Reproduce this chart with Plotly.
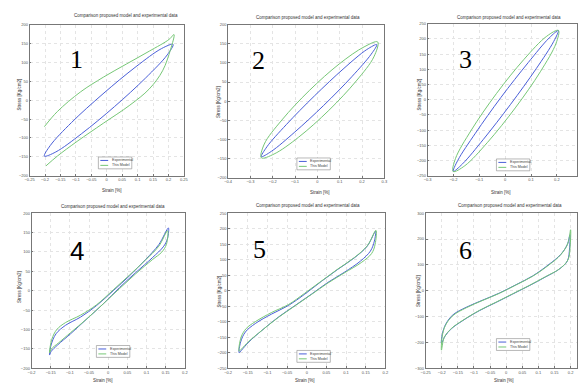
import plotly.graph_objects as go

W, H = 583, 387

# ---------------- data (strain [%], stress) ----------------
p1_exp_x = [-0.202, -0.165, -0.082, 0.025, 0.126, 0.196, 0.215, 0.178, 0.095, -0.012, -0.114, -0.183, -0.202]
p1_exp_y = [-148, -137, -89, -17, 59, 120, 148, 137, 89, 17, -59, -120, -148]
p1_mod_x = [-0.202, -0.160, -0.085, -0.011, 0.064, 0.138, 0.202, 0.218, 0.207, 0.181, 0.138, 0.075, -0.011, -0.096, -0.160, -0.197]
p1_mod_y = [-70, -30, 22, 61, 96, 130, 161, 174, 135, 78, 30, -13, -61, -109, -148, -174]

p2_exp_x = [-0.251, -0.206, -0.104, 0.028, 0.154, 0.241, 0.266, 0.221, 0.119, -0.013, -0.139, -0.226, -0.251]
p2_exp_y = [-145, -131, -82, -11, 64, 123, 148, 135, 86, 14, -61, -119, -145]
p2_mod_x = [-0.251, -0.194, -0.084, 0.051, 0.174, 0.253, 0.270, 0.209, 0.099, -0.036, -0.159, -0.238, -0.251]
p2_mod_y = [-148, -138, -94, -24, 53, 116, 155, 142, 98, 28, -49, -112, -148]

p3_exp_x = [-0.201, -0.165, -0.084, 0.021, 0.120, 0.188, 0.206, 0.170, 0.089, -0.016, -0.115, -0.183, -0.201]
p3_exp_y = [-236, -211, -130, -15, 102, 192, 228, 203, 122, 8, -110, -199, -236]
p3_mod_x = [-0.201, -0.156, -0.068, 0.039, 0.136, 0.197, 0.206, 0.161, 0.073, -0.034, -0.131, -0.192, -0.201]
p3_mod_y = [-236, -217, -140, -27, 92, 186, 228, 209, 133, 20, -100, -193, -236]

p4_exp_x = [-0.153, -0.149, -0.136, -0.111, -0.072, -0.030, 0.013, 0.055, 0.098, 0.132, 0.157,
            0.155, 0.145, 0.115, 0.072, 0.030, -0.013, -0.055, -0.098, -0.132, -0.149, -0.153]
p4_exp_y = [-166, -140, -111, -89, -68, -38, 0, 38, 81, 119, 162,
            136, 115, 85, 47, 8.5, -34, -72, -111, -140, -157, -166]
p4_mod_x = [-0.153, -0.147, -0.134, -0.111, -0.072, -0.030, 0.013, 0.055, 0.098, 0.132, 0.155,
            0.152, 0.140, 0.115, 0.072, 0.030, -0.013, -0.055, -0.098, -0.130, -0.148, -0.153]
p4_mod_y = [-160, -125, -100, -82, -63, -36, 2, 40, 80, 115, 155,
            120, 100, 80, 44, 6, -34, -72, -108, -135, -150, -160]

p5_exp_x = [-0.172, -0.168, -0.156, -0.131, -0.089, -0.047, -0.005, 0.037, 0.079, 0.121, 0.154, 0.175,
            0.172, 0.162, 0.137, 0.095, 0.054, 0.012, -0.030, -0.072, -0.114, -0.147, -0.166, -0.172]
p5_exp_y = [-200, -165, -133, -106, -75, -48, -11, 30, 69, 106, 144, 192,
            160, 128, 96, 59, 27, -11, -48, -85, -128, -165, -192, -200]
p5_mod_x = [-0.172, -0.167, -0.154, -0.131, -0.089, -0.047, -0.005, 0.037, 0.079, 0.121, 0.154, 0.176,
            0.174, 0.165, 0.140, 0.095, 0.054, 0.012, -0.030, -0.072, -0.114, -0.147, -0.166, -0.172]
p5_mod_y = [-195, -150, -122, -100, -70, -45, -8, 31, 70, 107, 145, 195,
            150, 120, 92, 57, 25, -12, -49, -86, -128, -163, -188, -195]

p6_exp_x = [-0.201, -0.198, -0.187, -0.165, -0.124, -0.072, -0.021, 0.030, 0.082, 0.133, 0.169, 0.190, 0.198,
            0.197, 0.190, 0.164, 0.123, 0.071, 0.020, -0.031, -0.083, -0.134, -0.170, -0.190, -0.201]
p6_exp_y = [-204, -166, -128, -93, -64, -36, -9, 23, 57, 102, 140, 179, 217,
            166, 115, 83, 54, 19, -13, -45, -77, -115, -147, -176, -204]
p6_mod_x = [-0.201, -0.199, -0.189, -0.165, -0.124, -0.072, -0.021, 0.030, 0.082, 0.133, 0.170, 0.192, 0.200,
            0.199, 0.192, 0.166, 0.123, 0.071, 0.020, -0.031, -0.083, -0.134, -0.170, -0.192, -0.201]
p6_mod_y = [-230, -180, -135, -96, -66, -37, -10, 22, 56, 100, 140, 185, 236,
            180, 120, 85, 55, 20, -12, -44, -76, -114, -146, -180, -230]

panel_labels = ["1", "2", "3", "4", "5", "6"]
series_names = ["Experimental", "This Model"]
title_text = "Comparison proposed model and experimental data"
xlabel_text = "Strain [%]"
ylabel_text = "Stress [Kg/cm2]"

x_ranges = [[-0.25, 0.25], [-0.4, 0.3], [-0.3, 0.278], [-0.2, 0.2], [-0.2, 0.2], [-0.25, 0.22]]
x_dticks = [0.05, 0.1, 0.1, 0.05, 0.05, 0.05]
y_ranges = [[-200, 200], [-200, 200], [-250, 250], [-200, 200], [-250, 250], [-300, 300]]
y_dticks = [50, 50, 50, 50, 50, 100]

exp_x = [p1_exp_x, p2_exp_x, p3_exp_x, p4_exp_x, p5_exp_x, p6_exp_x]
exp_y = [p1_exp_y, p2_exp_y, p3_exp_y, p4_exp_y, p5_exp_y, p6_exp_y]
mod_x = [p1_mod_x, p2_mod_x, p3_mod_x, p4_mod_x, p5_mod_x, p6_mod_x]
mod_y = [p1_mod_y, p2_mod_y, p3_mod_y, p4_mod_y, p5_mod_y, p6_mod_y]

# ---------------- layout (pixel boxes) ----------------
boxes = [(25, 182, 22, 175), (227, 386, 22, 177), (430, 582, 21, 175),
         (27, 183, 213, 370), (227, 387, 213, 370), (428, 582, 213, 370)]
legend_pos = [(95, 156), (297, 157), (500, 158), (93, 347), (297, 352), (500, 340)]
num_pos = [(73, 57), (258, 58), (469, 57), (73, 251), (259, 250), (469, 251)]
title_pos = [(123, 13), (308, 15), (513, 15), (110, 206), (308, 205), (514, 205)]
xlab_pos = [(109, 190), (320, 192), (505, 192), (100, 382), (305, 382), (508, 382)]
ylab_pos = [(15, 93), (217, 100), (422, 93), (15, 288), (218, 292), (420, 292)]

px = lambda v: v / W
py = lambda v: 1 - v / H

BLUE = "#4a5fd8"
GREEN = "#76c776"
colors = [BLUE, GREEN]

fig = go.Figure()
annotations = []
shapes = []
for i in range(6):
    xa = "x" if i == 0 else f"x{i+1}"
    ya = "y" if i == 0 else f"y{i+1}"
    fig.add_trace(go.Scatter(x=exp_x[i], y=exp_y[i], mode="lines", name=series_names[0],
                             line=dict(color=BLUE, width=1, shape="spline", smoothing=1.0),
                             xaxis=xa, yaxis=ya, showlegend=False))
    fig.add_trace(go.Scatter(x=mod_x[i], y=mod_y[i], mode="lines", name=series_names[1],
                             line=dict(color=GREEN, width=1, shape="spline", smoothing=1.0),
                             xaxis=xa, yaxis=ya, showlegend=False))
    x0, x1, y0, y1 = boxes[i]
    axcommon = dict(showline=True, mirror=True, linecolor="#777", linewidth=0.7,
                    ticks="inside", ticklen=2, tickcolor="#777", tickwidth=0.5,
                    showgrid=True, gridcolor="#e4e4e4", griddash="dot", gridwidth=0.6,
                    zeroline=False, tickfont=dict(size=4, color="#555", family="Liberation Sans"))
    fig.layout[("xaxis" if i == 0 else f"xaxis{i+1}")] = dict(
        domain=[px(x0), px(x1)], range=x_ranges[i], dtick=x_dticks[i], tick0=0,
        anchor=ya, **axcommon)
    fig.layout[("yaxis" if i == 0 else f"yaxis{i+1}")] = dict(
        domain=[py(y1), py(y0)], range=y_ranges[i], dtick=y_dticks[i], tick0=0,
        anchor=xa, **axcommon)

    # compact legend box (legend key drawn as shapes + text)
    lx, ly = legend_pos[i]
    shapes.append(dict(type="rect", xref="paper", yref="paper",
                       x0=px(lx), x1=px(lx + 34), y0=py(ly + 12), y1=py(ly),
                       line=dict(color="#888", width=0.6), fillcolor="white", layer="above"))
    for k in range(2):
        yy = ly + 3.5 + 5 * k
        shapes.append(dict(type="line", xref="paper", yref="paper",
                           x0=px(lx + 2), x1=px(lx + 10), y0=py(yy), y1=py(yy),
                           line=dict(color=colors[k], width=1), layer="above"))
        annotations.append(dict(x=px(lx + 11.5), y=py(yy), xref="paper", yref="paper",
                                text=series_names[k], showarrow=False, xanchor="left", yanchor="middle",
                                font=dict(size=3.6, color="#444", family="Liberation Sans")))
    # panel number
    nx, ny = num_pos[i]
    annotations.append(dict(x=px(nx), y=py(ny), xref="paper", yref="paper",
                            text=panel_labels[i], showarrow=False, xanchor="center", yanchor="middle",
                            font=dict(size=26, color="black",
                                      family="Liberation Sans" if i == 3 else "Liberation Serif")))
    tx, ty = title_pos[i]
    annotations.append(dict(x=px(tx), y=py(ty), xref="paper", yref="paper", text=title_text,
                            showarrow=False, xanchor="center", yanchor="middle",
                            font=dict(size=4.5, color="#333", family="Liberation Sans")))
    ax_, ay_ = xlab_pos[i]
    annotations.append(dict(x=px(ax_), y=py(ay_), xref="paper", yref="paper", text=xlabel_text,
                            showarrow=False, xanchor="center", yanchor="middle",
                            font=dict(size=4.5, color="#333", family="Liberation Sans")))
    bx, by = ylab_pos[i]
    annotations.append(dict(x=px(bx), y=py(by), xref="paper", yref="paper", text=ylabel_text,
                            showarrow=False, xanchor="center", yanchor="middle", textangle=-90,
                            font=dict(size=4.5, color="#333", family="Liberation Sans")))

fig.update_layout(width=W, height=H, margin=dict(l=0, r=0, t=0, b=0),
                  paper_bgcolor="white", plot_bgcolor="white",
                  annotations=annotations, shapes=shapes, showlegend=False)

# remove the default 8px page margin so the 583x387 figure fills the window exactly
fig.write_html("out.html", config={"displayModeBar": False},
               post_script="document.body.style.margin='0';document.body.style.overflow='hidden';")
